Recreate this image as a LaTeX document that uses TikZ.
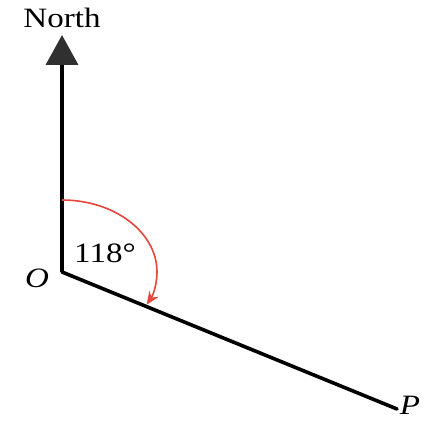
\documentclass[tikz,border=0pt]{standalone}
\usepackage{fontspec}
\setmainfont{Liberation Serif}[FakeStretch=1.18]
\usetikzlibrary{arrows.meta}
\definecolor{arcred}{HTML}{E8453C}
\definecolor{headgray}{HTML}{303030}
\tikzset{
  axis/.style={line width=3.6pt, black},
  lbl/.style={font=\fontsize{28}{31}\selectfont, inner sep=0pt},
  anglearc/.style={line width=1.6pt, arcred, -{Stealth[length=13pt,width=11pt]}}
}
\begin{document}
\begin{tikzpicture}[x=1pt,y=1pt]
\useasboundingbox (0,0) rectangle (425,421);
\coordinate (O) at (62,149);
\coordinate (N) at (62,386);
\coordinate (P) at (397,12);
\coordinate (A) at (62,221);
\draw[axis, -{Triangle[length=30pt,width=32pt,color=headgray]}] (O) -- (N);
\draw[axis, line cap=round] (O) -- (P);
\draw[anglearc] (A) arc[start angle=90, end angle=-27, x radius=95, y radius=72];
\node[lbl, anchor=base] (north) at (62,393) {North};
\node[lbl, anchor=base] (ang) at (105,159) {118°};
\node[lbl, anchor=base] (o) at (37,134) {\itshape O};
\node[lbl, anchor=base] (p) at (410,7) {\itshape P};
\end{tikzpicture}
\end{document}
